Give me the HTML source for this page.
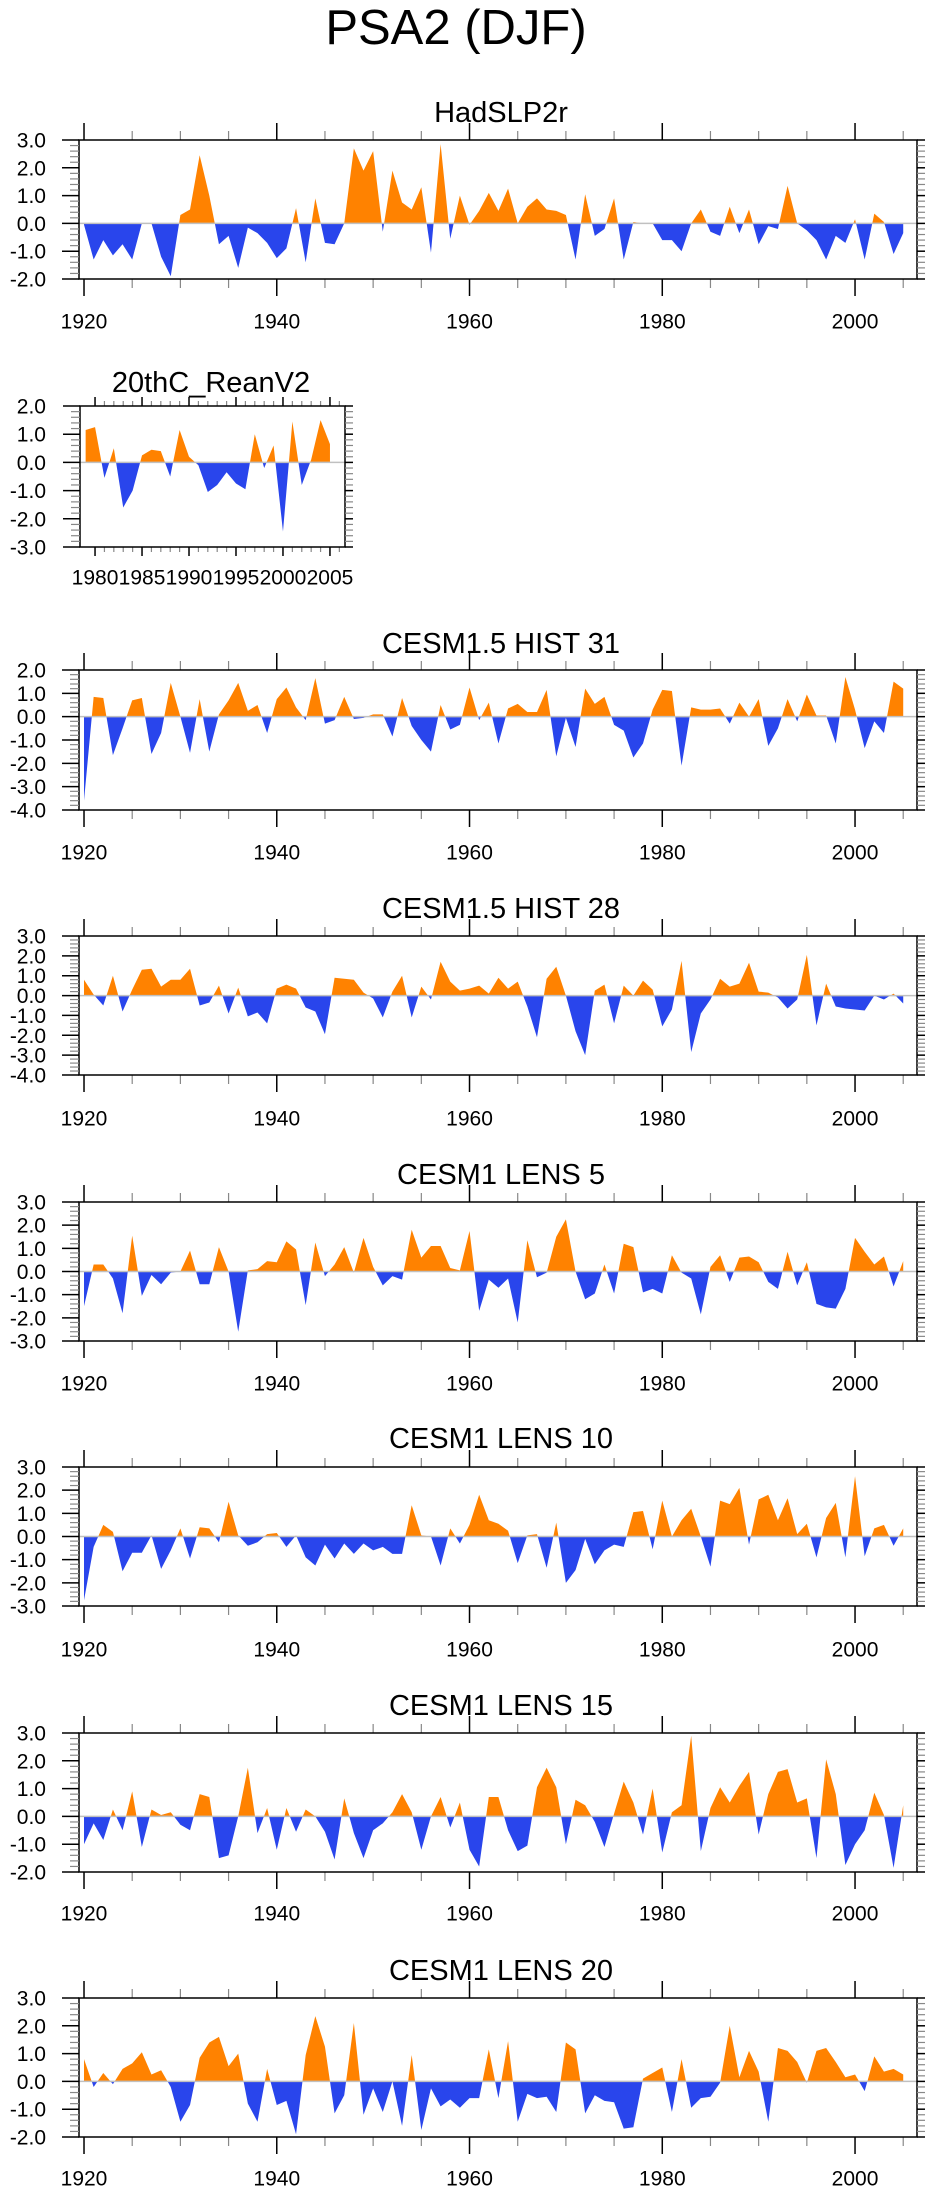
<!DOCTYPE html>
<html><head><meta charset="utf-8"><style>
html,body{margin:0;padding:0;background:#fff;}
svg{display:block;font-family:"Liberation Sans",sans-serif;}
</style></head><body>
<svg id="chart" width="943" height="2196" viewBox="0 0 943 2196" xmlns="http://www.w3.org/2000/svg">
<text x="456" y="44" font-size="49" text-anchor="middle">PSA2 (DJF)</text>
</svg>
<script>
const years = Array.from({length:86},(_,i)=>1920+i);
const years20c = Array.from({length:27},(_,i)=>1979+i);
const hadslp = [-0.05,-1.3,-0.6,-1.15,-0.75,-1.3,0.0,0.0,-1.2,-1.9,0.3,0.5,2.45,1.0,-0.75,-0.45,-1.6,-0.15,-0.35,-0.7,-1.25,-0.9,0.55,-1.4,0.9,-0.7,-0.75,0.0,2.7,1.9,2.6,-0.3,1.9,0.75,0.5,1.3,-1.05,2.85,-0.55,1.0,-0.05,0.45,1.1,0.45,1.25,0.0,0.6,0.9,0.5,0.45,0.3,-1.3,1.05,-0.45,-0.2,0.9,-1.3,0.05,0.0,0.0,-0.6,-0.6,-1.0,0.0,0.5,-0.3,-0.45,0.6,-0.35,0.5,-0.75,-0.1,-0.2,1.35,0.0,-0.25,-0.6,-1.3,-0.45,-0.7,0.15,-1.3,0.35,0.05,-1.1,-0.35];
const rean20c = [1.15,1.25,-0.55,0.5,-1.6,-1.0,0.25,0.45,0.4,-0.5,1.15,0.2,-0.1,-1.05,-0.8,-0.35,-0.75,-0.95,1.0,-0.2,0.6,-2.45,1.45,-0.8,0.1,1.5,0.65];
const hist31 = [-3.6,0.85,0.8,-1.65,-0.5,0.7,0.8,-1.6,-0.7,1.45,0.0,-1.55,0.75,-1.5,0.1,0.7,1.45,0.25,0.5,-0.7,0.75,1.25,0.4,-0.15,1.65,-0.3,-0.15,0.85,-0.1,-0.05,0.1,0.1,-0.85,0.8,-0.4,-1.0,-1.5,0.5,-0.55,-0.35,1.25,-0.15,0.6,-1.15,0.35,0.55,0.2,0.2,1.15,-1.7,-0.05,-1.3,1.2,0.55,0.85,-0.35,-0.6,-1.75,-1.15,0.3,1.15,1.1,-2.1,0.4,0.3,0.3,0.35,-0.3,0.6,0.0,0.75,-1.25,-0.5,0.75,-0.2,0.95,0.05,0.05,-1.15,1.7,0.3,-1.35,-0.2,-0.7,1.5,1.2];
const hist28 = [0.8,0.05,-0.5,1.0,-0.8,0.3,1.3,1.35,0.45,0.8,0.8,1.35,-0.5,-0.35,0.5,-0.9,0.4,-1.05,-0.85,-1.4,0.35,0.55,0.35,-0.6,-0.8,-1.95,0.9,0.85,0.8,0.15,-0.15,-1.1,0.2,1.0,-1.1,0.45,-0.2,1.7,0.7,0.25,0.35,0.5,0.1,0.9,0.35,0.7,-0.55,-2.1,0.85,1.45,0.0,-1.8,-3.0,0.25,0.55,-1.4,0.5,0.0,0.75,0.3,-1.55,-0.7,1.75,-2.85,-0.9,-0.2,0.85,0.45,0.6,1.65,0.2,0.15,-0.1,-0.65,-0.2,2.05,-1.5,0.6,-0.55,-0.65,-0.7,-0.75,0.0,-0.2,0.1,-0.4];
const lens5 = [-1.5,0.3,0.3,-0.3,-1.8,1.55,-1.05,-0.15,-0.55,-0.05,0.0,0.9,-0.55,-0.55,1.05,0.0,-2.6,0.05,0.1,0.45,0.4,1.3,0.95,-1.45,1.25,-0.2,0.3,1.05,-0.05,1.45,0.2,-0.6,-0.2,-0.35,1.8,0.6,1.1,1.1,0.15,0.05,1.75,-1.7,-0.35,-0.7,-0.3,-2.2,1.35,-0.25,-0.05,1.5,2.25,0.0,-1.2,-0.95,0.3,-0.95,1.2,1.05,-0.9,-0.75,-0.95,0.7,-0.05,-0.3,-1.85,0.2,0.7,-0.45,0.6,0.65,0.4,-0.45,-0.75,0.85,-0.6,0.4,-1.4,-1.55,-1.6,-0.75,1.45,0.85,0.3,0.65,-0.65,0.45];
const lens10 = [-2.75,-0.45,0.5,0.2,-1.5,-0.7,-0.7,0.05,-1.4,-0.6,0.35,-0.95,0.4,0.35,-0.25,1.5,0.05,-0.4,-0.25,0.1,0.15,-0.45,0.05,-0.9,-1.25,-0.35,-0.95,-0.3,-0.75,-0.3,-0.6,-0.45,-0.75,-0.75,1.35,0.05,0.0,-1.25,0.35,-0.3,0.5,1.8,0.7,0.55,0.25,-1.15,0.05,0.1,-1.35,0.6,-2.0,-1.45,-0.1,-1.2,-0.6,-0.35,-0.45,1.05,1.1,-0.55,1.55,0.0,0.7,1.2,0.0,-1.3,1.55,1.4,2.1,-0.35,1.6,1.8,0.7,1.65,0.1,0.55,-0.9,0.8,1.45,-0.9,2.6,-0.85,0.35,0.5,-0.4,0.35];
const lens15 = [-1.0,-0.25,-0.85,0.25,-0.5,0.9,-1.1,0.25,0.05,0.15,-0.3,-0.5,0.8,0.7,-1.5,-1.4,0.0,1.75,-0.6,0.3,-1.2,0.3,-0.55,0.25,0.0,-0.55,-1.55,0.65,-0.6,-1.5,-0.5,-0.25,0.15,0.8,0.15,-1.2,0.0,0.7,-0.4,0.5,-1.2,-1.8,0.7,0.7,-0.5,-1.25,-1.05,1.05,1.75,1.05,-1.0,0.6,0.4,-0.2,-1.1,0.1,1.25,0.5,-0.65,1.0,-1.3,0.15,0.4,2.9,-1.25,0.3,1.05,0.5,1.1,1.6,-0.65,0.8,1.6,1.7,0.5,0.65,-1.5,2.05,0.8,-1.75,-1.0,-0.5,0.85,0.05,-1.85,0.4];
const lens20 = [0.8,-0.2,0.3,-0.1,0.45,0.65,1.05,0.25,0.4,-0.2,-1.45,-0.85,0.85,1.4,1.6,0.55,1.0,-0.8,-1.45,0.45,-0.85,-0.7,-1.9,0.95,2.35,1.25,-1.15,-0.5,2.1,-1.2,-0.25,-1.1,0.0,-1.6,0.95,-1.75,-0.25,-0.9,-0.65,-0.95,-0.6,-0.6,1.15,-0.6,1.45,-1.45,-0.45,-0.6,-0.55,-1.1,1.4,1.15,-1.15,-0.5,-0.7,-0.75,-1.7,-1.65,0.1,0.3,0.5,-1.1,0.8,-0.95,-0.6,-0.55,-0.05,2.0,0.15,1.1,0.35,-1.45,1.2,1.1,0.7,-0.05,1.1,1.2,0.7,0.15,0.25,-0.35,0.9,0.35,0.45,0.25];
const yTicksA = [3.0,2.0,1.0,0.0,-1.0,-2.0];
const yTicks20c = [2.0,1.0,0.0,-1.0,-2.0,-3.0];
const yTicksH31 = [2.0,1.0,0.0,-1.0,-2.0,-3.0,-4.0];
const yTicksH28 = [3.0,2.0,1.0,0.0,-1.0,-2.0,-3.0,-4.0];
const yTicksL = [3.0,2.0,1.0,0.0,-1.0,-2.0,-3.0];
const xTickLabels = [1920,1940,1960,1980,2000];
const xTickLabels20c = [1980,1985,1990,1995,2000,2005];

const NS="http://www.w3.org/2000/svg";
const svg=document.getElementById('chart');
function mk(tag,attrs,parent){const e=document.createElementNS(NS,tag);for(const k in attrs)e.setAttribute(k,attrs[k]);(parent||svg).appendChild(e);return e;}
const ORANGE="#ff8200", BLUE="#2945ec";
let clipId=0;

function panel(o){
  const g=mk('g',{});
  
  
  const xs=v=>o.x0+(v-o.xr0)*(o.x1-o.x0)/(o.xr1-o.xr0);
  const ys=v=>o.top+(o.ymax-v)*(o.bot-o.top)/(o.ymax-o.ymin);
  const majL=o.majL||17, minL=o.minL||9;
  // x ticks first (behind title)
  for(let yr=o.mt0;yr<=o.xr1;yr+=o.minorStep){
    const x=xs(yr);const maj=((yr-o.mt0)%o.majorStep)===0;
    const L=maj?majL:minL;
    mk('line',{x1:x,x2:x,y1:o.top-L,y2:o.top,stroke:maj?'#000':'#888','stroke-width':maj?1.5:1.2},g);
    mk('line',{x1:x,x2:x,y1:o.bot,y2:o.bot+L,stroke:maj?'#000':'#888','stroke-width':maj?1.5:1.2},g);
  }
  const t=mk('text',{x:o.tx,y:o.titleY+10,'font-size':29,'text-anchor':'middle'},g);
  t.textContent=o.title;
  
  
  const z=ys(0);
  let d='M'+xs(o.yrs[0])+' '+z;
  o.vals.forEach((v,i)=>{d+=' L'+xs(o.yrs[i]).toFixed(2)+' '+ys(v).toFixed(2);});
  d+=' L'+xs(o.yrs[o.yrs.length-1])+' '+z+' Z';
  const defs=mk('defs',{},g);
  const ca='ca'+(clipId), cb='cb'+(clipId++);
  const c1=mk('clipPath',{id:ca},defs); mk('rect',{x:o.x0,y:o.top-5,width:o.x1-o.x0,height:z-o.top+5},c1);
  const c2=mk('clipPath',{id:cb},defs); mk('rect',{x:o.x0,y:z,width:o.x1-o.x0,height:o.bot-z+5},c2);
  const pa=mk('path',{d:d,fill:ORANGE,'clip-path':'url(#'+ca+')'},g);
  
  
  const pb=mk('path',{d:d,fill:BLUE,'clip-path':'url(#'+cb+')'},g);
  
  
  const zl=mk('line',{x1:o.x0,x2:o.x1,y1:z,y2:z,stroke:'#c0c0c0','stroke-width':1.5},g);
  
  
  const fr=mk('rect',{x:o.x0,y:o.top,width:o.x1-o.x0,height:o.bot-o.top,fill:'none',stroke:'#000','stroke-width':1.5},g);
  
  
  for(let v=o.ymin;v<=o.ymax+1e-6;v+=0.2){
    const y=ys(v);const maj=Math.abs(v-Math.round(v))<1e-6;
    mk('line',{x1:o.x0-(maj?17:9),x2:o.x0,y1:y,y2:y,stroke:maj?'#000':'#888','stroke-width':maj?1.5:1.2},g);
    mk('line',{x1:o.x1,x2:o.x1+8,y1:y,y2:y,stroke:maj?'#000':'#888','stroke-width':maj?1.5:1.2},g);
  }
  o.yt.forEach(v=>{
    const l=mk('text',{x:46,y:ys(v)+7.5,'font-size':21,'text-anchor':'end'},g);
    l.textContent=v.toFixed(1);
    
    
  });
  o.xt.forEach(v=>{
    const l=mk('text',{x:xs(v),y:o.labY+7.5,'font-size':21,'text-anchor':'middle'},g);
    l.textContent=v;
    
    
  });
}
const base={x0:79,x1:917,xr0:1919.48,xr1:2006.43,tx:501,mt0:1920,minorStep:5,majorStep:20,xt:xTickLabels,yrs:years};
const P=(o)=>panel(Object.assign({},base,o));
P({name:'hadslp2r',title:'HadSLP2r',titleY:112,top:140,bot:279,ymax:3,ymin:-2,yt:yTicksA,labY:321,vals:hadslp});
panel({name:'reanv2',title:'20thC_ReanV2',tx:211,titleY:382,top:406,bot:547,ymax:2,ymin:-3,yt:yTicks20c,labY:577,majL:9,minL:5,
  x0:80,x1:345,xr0:1978.4,xr1:2006.6,mt0:1980,minorStep:1,majorStep:5,xt:xTickLabels20c,yrs:years20c,vals:rean20c});
P({name:'hist31',title:'CESM1.5 HIST 31',titleY:643,top:670,bot:810,ymax:2,ymin:-4,yt:yTicksH31,labY:852,vals:hist31});
P({name:'hist28',title:'CESM1.5 HIST 28',titleY:908,top:936,bot:1075,ymax:3,ymin:-4,yt:yTicksH28,labY:1118,vals:hist28});
P({name:'lens5',title:'CESM1 LENS 5',titleY:1174,top:1202,bot:1341,ymax:3,ymin:-3,yt:yTicksL,labY:1383,vals:lens5});
P({name:'lens10',title:'CESM1 LENS 10',titleY:1438,top:1467,bot:1606,ymax:3,ymin:-3,yt:yTicksL,labY:1649,vals:lens10});
P({name:'lens15',title:'CESM1 LENS 15',titleY:1705,top:1733,bot:1872,ymax:3,ymin:-2,yt:yTicksA,labY:1913,vals:lens15});
P({name:'lens20',title:'CESM1 LENS 20',titleY:1970,top:1998,bot:2137,ymax:3,ymin:-2,yt:yTicksA,labY:2178,vals:lens20});
</script>
</body></html>
